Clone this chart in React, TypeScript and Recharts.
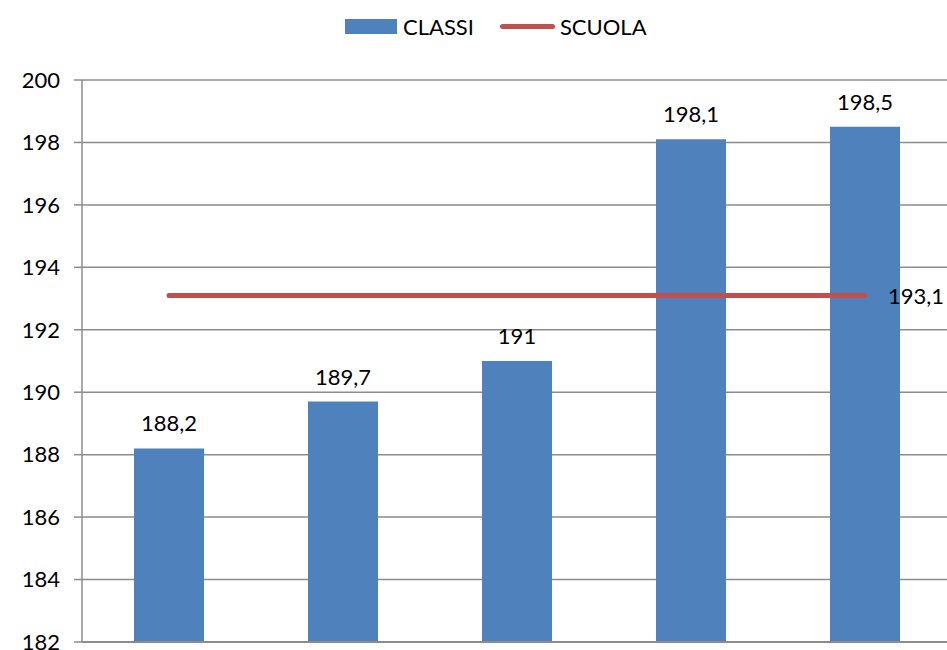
import { Bar, CartesianGrid, ComposedChart, LabelList, Legend, Line, XAxis, YAxis } from "recharts";

const categories = ["1", "2", "3", "4", "5"];
const classi = [188.2, 189.7, 191, 198.1, 198.5];
const scuola = [193.1, 193.1, 193.1, 193.1, 193.1];
const yTicks = [182, 184, 186, 188, 190, 192, 194, 196, 198, 200];

const data = categories.map((name, i) => ({ name, classi: classi[i], scuola: scuola[i] }));

const FONT = "Lato, 'Liberation Sans', sans-serif";
const BLUE = "#4F81BD";
const RED = "#C0504D";
const GRID = "#8c8c8c";

const fmt = (v: number) => String(v).replace(".", ",");

function LegendBox() {
  return (
    <div style={{ display: "flex", alignItems: "center", height: 40, paddingLeft: 345, fontSize: 22, fontFamily: FONT, color: "#000" }}>
      <span style={{ display: "inline-block", width: 52, height: 15, background: BLUE, marginRight: 6 }} />
      <span style={{ marginRight: 26 }}>CLASSI</span>
      <span style={{ display: "inline-block", width: 55, height: 5, borderRadius: 3, background: RED, marginRight: 5 }} />
      <span>SCUOLA</span>
    </div>
  );
}

export default function App() {
  return (
    <div style={{ position: "absolute", left: 0, top: 0, width: 947, height: 650, overflow: "hidden", fontFamily: FONT, background: "#fff" }}>
      <ComposedChart width={952} height={650} data={data} margin={{ top: 40, right: 0, bottom: 6, left: 0 }}>
        <Legend verticalAlign="top" content={() => <LegendBox />} wrapperStyle={{ top: 6, left: 0 }} />
        <CartesianGrid vertical={false} stroke={GRID} strokeWidth={1.5} />
        <XAxis dataKey="name" tick={false} tickLine={false} height={2} axisLine={{ stroke: GRID, strokeWidth: 2 }} />
        <YAxis
          domain={[182, 200]}
          ticks={yTicks}
          interval={0}
          allowDataOverflow
          width={82}
          tickSize={8}
          tickMargin={14}
          axisLine={{ stroke: GRID, strokeWidth: 1.5 }}
          tickLine={{ stroke: GRID, strokeWidth: 1.5 }}
          tick={{ fill: "#000", fontSize: 22, fontFamily: FONT }}
        />
        <Bar dataKey="classi" fill={BLUE} barSize={70} isAnimationActive={false}>
          <LabelList dataKey="classi" position="top" offset={17} formatter={(v: any) => fmt(v)} fill="#000" fontSize={22} fontFamily={FONT} />
        </Bar>
        <Line
          dataKey="scuola"
          stroke={RED}
          strokeWidth={5}
          strokeLinecap="round"
          dot={false}
          isAnimationActive={false}
        >
          <LabelList
            dataKey="scuola"
            content={(p: any) =>
              p.index === scuola.length - 1 ? (
                <text x={p.x + 23} y={p.y} dominantBaseline="central" fill="#000" fontSize={22} fontFamily={FONT}>
                  {fmt(p.value)}
                </text>
              ) : null
            }
          />
        </Line>
      </ComposedChart>
    </div>
  );
}
